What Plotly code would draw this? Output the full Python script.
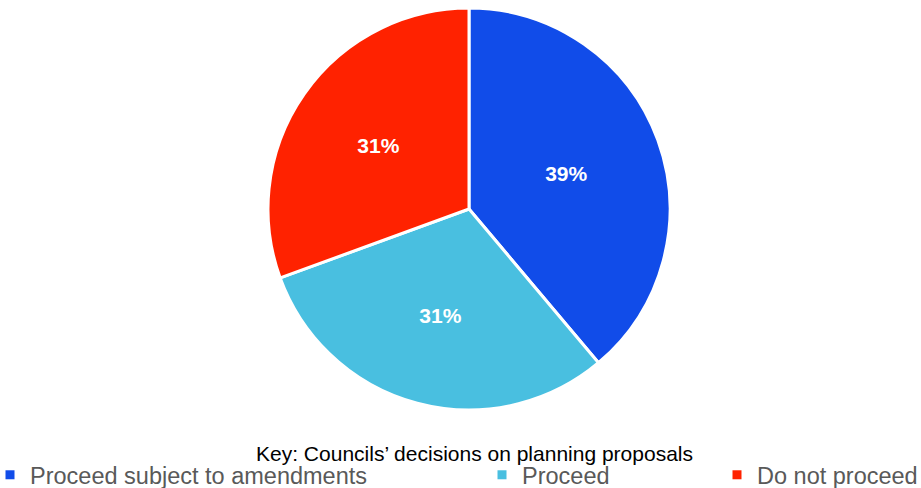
import plotly.graph_objects as go

categories = ["Proceed subject to amendments", "Proceed", "Do not proceed"]
shares = [38.9, 30.6, 30.6]
colors = ["#114CE9", "#49BFE0", "#FF2200"]
legend_title = "Key: Councils\u2019 decisions on planning proposals"

W, H = 921, 488
cx, cy, r = 469, 209, 201

fig = go.Figure()
fig.add_trace(go.Pie(
    labels=categories,
    values=shares,
    sort=False,
    direction="clockwise",
    rotation=0,
    marker=dict(colors=colors, line=dict(color="white", width=3)),
    texttemplate="%{percent:.0%}",
    textposition="inside",
    insidetextorientation="horizontal",
    textfont=dict(family="Liberation Sans, Arial", size=21, color="white", weight="bold"),
    showlegend=False,
    hoverinfo="label+percent",
    domain=dict(x=[(cx - r) / W, (cx + r) / W], y=[1 - (cy + r) / H, 1 - (cy - r) / H]),
))

legend_names = ["legend", "legend2", "legend3"]
legend_x = [-10, 482, 717]
for name, color, lg in zip(categories, colors, legend_names):
    fig.add_trace(go.Scatter(
        x=[None], y=[None], mode="markers", name=name,
        marker=dict(symbol="square", size=9, color=color),
        legend=lg, showlegend=True,
    ))

legend_common = dict(
    orientation="h", yanchor="middle", y=1 - 475 / H, xanchor="left",
    font=dict(family="Liberation Sans, Arial", size=23.5, color="#595959"),
    bgcolor="rgba(0,0,0,0)", itemwidth=30, borderwidth=0,
)
layout_legends = {}
for lg, lx in zip(legend_names, legend_x):
    layout_legends[lg] = dict(legend_common, x=lx / W)

fig.update_layout(
    width=W, height=H,
    margin=dict(l=0, r=0, t=0, b=0, autoexpand=False),
    paper_bgcolor="white", plot_bgcolor="white",
    xaxis=dict(visible=False), yaxis=dict(visible=False),
    annotations=[dict(
        text=legend_title, x=474 / W, y=1 - 453 / H, xref="paper", yref="paper",
        showarrow=False, xanchor="center", yanchor="middle",
        font=dict(family="Liberation Sans, Arial", size=21, color="black"),
    )],
    **layout_legends,
)

fig.write_html(
    "out.html",
    config={"displayModeBar": False},
    post_script="document.body.style.margin='0';document.body.style.overflow='hidden';",
)
